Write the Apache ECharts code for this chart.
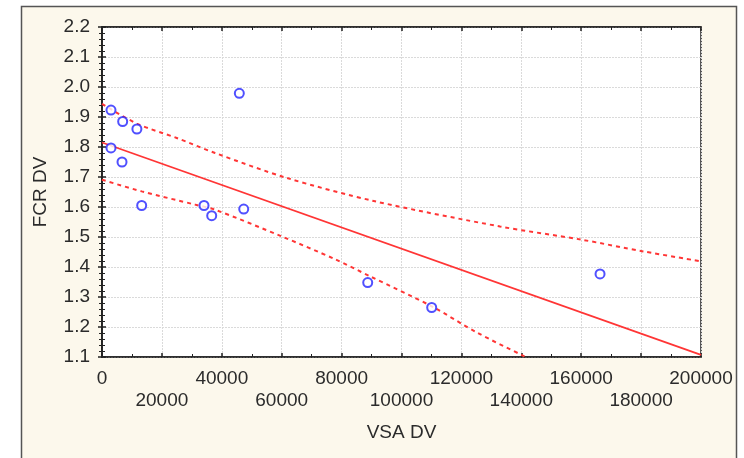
<!DOCTYPE html>
<html>
<head>
<meta charset="utf-8">
<script src="https://cdn.jsdelivr.net/npm/echarts@6/dist/echarts.min.js"></script>
<style>
html,body{margin:0;padding:0;background:#fff;}
#chart{width:744px;height:458px;}
</style>
</head>
<body>
<div id="chart"></div>
<script>
// Observations (VSA DV, FCR DV)
const vsa = [3000, 6900, 11650, 3000, 6680, 13250, 34060, 36630, 45850, 47320, 88720, 110080, 166290];
const fcr = [1.923, 1.885, 1.860, 1.797, 1.750, 1.605, 1.605, 1.571, 1.979, 1.593, 1.348, 1.265, 1.377];

// Fitted regression line
const fitX = [0, 200000];
const fitY = [1.815, 1.107];

// Upper confidence band
const upperX = [0, 11650, 24940, 37730, 61670, 91150, 132890, 160170, 180740, 200000];
const upperY = [1.944, 1.878, 1.830, 1.780, 1.697, 1.619, 1.535, 1.491, 1.452, 1.419];

// Lower confidence band
const lowerX = [0, 13250, 31060, 37730, 60000, 77800, 89480, 110080, 125100, 140670, 142000];
const lowerY = [1.691, 1.652, 1.608, 1.591, 1.502, 1.426, 1.369, 1.269, 1.182, 1.104, 1.098];

// Axis settings
const xMin = 0, xMax = 200000, xStep = 20000;
const yMin = 1.1, yMax = 2.2, yStep = 0.1;
const xTitle = 'VSA DV';
const yTitle = 'FCR DV';

const zip = (a, b) => a.map((v, i) => [v, b[i]]);

const FONT = '"Liberation Sans", Arial, sans-serif';
const RED = '#ff3535';
const TXT = '#2b2b2b';
const GRID = {type: [2, 1], color: '#dadada', width: 1};
const isOdd = v => Math.round(v / xStep) % 2 === 1;

const chart = echarts.init(document.getElementById('chart'), null, {renderer: 'canvas'});

const baseX = {
  type: 'value', min: xMin, max: xMax, interval: xStep,
  axisLine: {show: true, lineStyle: {color: '#222', width: 1.5}},
  axisTick: {show: true, inside: true, length: 4, lineStyle: {color: '#222', width: 1.5}},
  minorTick: {show: true, splitNumber: 2, length: 3, lineStyle: {color: '#222', width: 1}},
};
const baseY = {
  type: 'value', min: yMin, max: yMax, interval: yStep,
  axisLine: {show: true, lineStyle: {color: '#222', width: 1.5}},
  axisTick: {show: true, inside: true, length: 4, lineStyle: {color: '#222', width: 1.5}},
  minorTick: {show: true, splitNumber: 5, length: 3, lineStyle: {color: '#222', width: 1}},
};
const labelBase = {
  show: true, margin: 12, fontFamily: FONT, fontSize: 19, color: TXT,
  verticalAlign: 'top', showMinLabel: true, showMaxLabel: true, hideOverlap: false
};

chart.setOption({
  animation: false,
  backgroundColor: '#fff',
  graphic: [{
    type: 'rect', z: -10, silent: true,
    shape: {x: 21.5, y: 6.5, width: 715, height: 470},
    style: {fill: '#fcf8ec', stroke: '#555', lineWidth: 1.5}
  }],
  grid: {left: 102, top: 27, width: 599, height: 330, show: true,
         backgroundColor: '#fff', borderColor: '#222', borderWidth: 1.5},
  xAxis: [
    Object.assign({}, baseX, {
      position: 'bottom',
      name: xTitle, nameLocation: 'middle', nameGap: 66,
      nameTextStyle: {fontFamily: FONT, fontSize: 19, color: TXT},
      splitLine: {show: true, lineStyle: GRID},
      axisLabel: Object.assign({}, labelBase, {
        formatter: v => isOdd(v) ? '' : String(v)
      })
    }),
    Object.assign({}, baseX, {
      position: 'top', splitLine: {show: false}, axisLabel: {show: false}
    }),
    Object.assign({}, baseX, {
      position: 'bottom', offset: 22,
      axisLine: {show: false}, axisTick: {show: false}, minorTick: {show: false},
      splitLine: {show: false},
      axisLabel: Object.assign({}, labelBase, {
        formatter: v => isOdd(v) ? String(v) : ''
      })
    })
  ],
  yAxis: [
    Object.assign({}, baseY, {
      position: 'left',
      name: yTitle, nameLocation: 'middle', nameGap: 52, nameRotate: 90,
      nameTextStyle: {fontFamily: FONT, fontSize: 19, color: TXT},
      splitLine: {show: true, lineStyle: GRID},
      axisLabel: {
        show: true, margin: 12, fontFamily: FONT, fontSize: 19, color: TXT,
        showMinLabel: true, showMaxLabel: true,
        formatter: v => v.toFixed(1)
      }
    }),
    Object.assign({}, baseY, {
      position: 'right', splitLine: {show: false}, axisLabel: {show: false}
    })
  ],
  series: [
    {
      type: 'line', data: zip(upperX, upperY), smooth: 0.3, symbol: 'none', clip: true,
      lineStyle: {color: RED, width: 2, type: [4, 4]}, z: 3
    },
    {
      type: 'line', data: zip(lowerX, lowerY), smooth: 0.3, symbol: 'none', clip: true,
      lineStyle: {color: RED, width: 2, type: [4, 4]}, z: 3
    },
    {
      type: 'line', data: zip(fitX, fitY), symbol: 'none', clip: true,
      lineStyle: {color: RED, width: 1.8, type: 'solid'}, z: 3
    },
    {
      type: 'scatter', data: zip(vsa, fcr), symbol: 'emptyCircle', symbolSize: 9,
      itemStyle: {color: '#2424ff', borderColor: '#2424ff', borderWidth: 1.6}, z: 5
    }
  ]
});
</script>
</body>
</html>
